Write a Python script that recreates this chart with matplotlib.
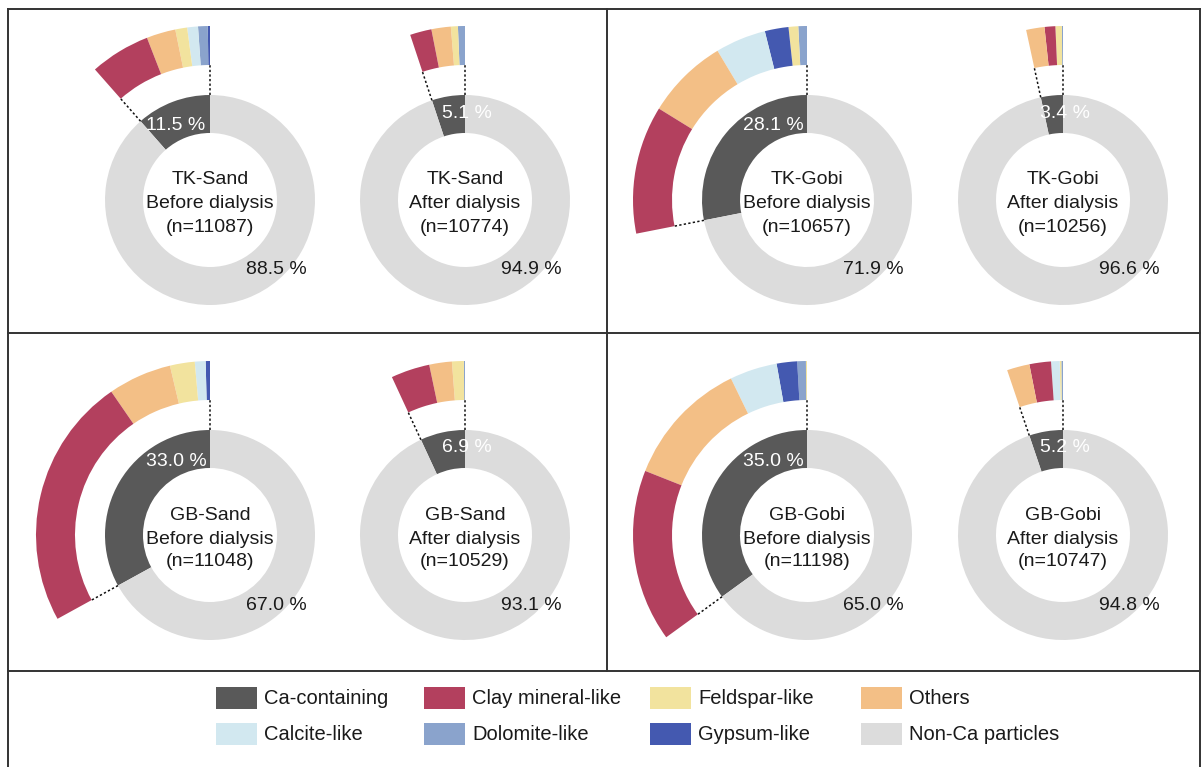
import matplotlib
matplotlib.use("Agg")
import matplotlib.pyplot as plt
from matplotlib.patches import Wedge, Rectangle
import numpy as np

plt.rcParams["font.family"] = ["Liberation Sans", "DejaVu Sans"]

# ---- data -------------------------------------------------------------
samples = ["TK-Sand", "TK-Sand", "TK-Gobi", "TK-Gobi",
           "GB-Sand", "GB-Sand", "GB-Gobi", "GB-Gobi"]
stages = ["Before dialysis", "After dialysis"] * 4
n_particles = [11087, 10774, 10657, 10256, 11048, 10529, 11198, 10747]
ca_pct = [11.5, 5.1, 28.1, 3.4, 33.0, 6.9, 35.0, 5.2]
non_ca_pct = [88.5, 94.9, 71.9, 96.6, 67.0, 93.1, 65.0, 94.8]

# Ca-containing breakdown (% of all particles), listed from 12 o'clock counter-clockwise
tk_sand_before = {"Gypsum-like": 0.2, "Dolomite-like": 0.9, "Calcite-like": 1.0,
                  "Feldspar-like": 1.1, "Others": 2.7, "Clay mineral-like": 5.6}
tk_sand_after = {"Dolomite-like": 0.65, "Feldspar-like": 0.65, "Others": 1.8,
                 "Clay mineral-like": 2.0}
tk_gobi_before = {"Dolomite-like": 0.8, "Feldspar-like": 0.9, "Gypsum-like": 2.2,
                  "Calcite-like": 4.7, "Others": 7.6, "Clay mineral-like": 11.9}
tk_gobi_after = {"Dolomite-like": 0.1, "Feldspar-like": 0.6, "Clay mineral-like": 1.0,
                 "Others": 1.7}
gb_sand_before = {"Gypsum-like": 0.4, "Calcite-like": 1.0, "Feldspar-like": 2.3,
                  "Others": 5.9, "Clay mineral-like": 23.4}
gb_sand_after = {"Dolomite-like": 0.1, "Feldspar-like": 1.1, "Others": 2.1,
                 "Clay mineral-like": 3.6}
gb_gobi_before = {"Feldspar-like": 0.1, "Dolomite-like": 0.8, "Gypsum-like": 1.9,
                  "Calcite-like": 4.4, "Others": 11.8, "Clay mineral-like": 16.0}
gb_gobi_after = {"Dolomite-like": 0.15, "Feldspar-like": 0.15, "Calcite-like": 0.8,
                 "Clay mineral-like": 2.0, "Others": 2.1}

breakdowns = [tk_sand_before, tk_sand_after, tk_gobi_before, tk_gobi_after,
              gb_sand_before, gb_sand_after, gb_gobi_before, gb_gobi_after]

legend_rows = [["Ca-containing", "Clay mineral-like", "Feldspar-like", "Others"],
               ["Calcite-like", "Dolomite-like", "Gypsum-like", "Non-Ca particles"]]

colors = {
    "Ca-containing": "#595959",
    "Clay mineral-like": "#B3405E",
    "Feldspar-like": "#F2E39E",
    "Others": "#F3BF86",
    "Calcite-like": "#D2E8F0",
    "Dolomite-like": "#8AA3CC",
    "Gypsum-like": "#4459B0",
    "Non-Ca particles": "#DCDCDC",
}

# ---- layout (pixel units, y measured from top) --------------------------
W, H = 1203, 767
fig = plt.figure(figsize=(W / 100, H / 100), dpi=100)
ax = fig.add_axes([0, 0, 1, 1])
ax.set_xlim(0, W)
ax.set_ylim(0, H)
ax.axis("off")


def Y(y):
    return H - y


col_x = [210, 465, 807, 1063]
row_y = [200, 535]
r_in_out, r_in_w = 105, 38       # inner donut
r_out_out, r_out_w = 174, 39     # magnified Ca ring
fs = 14
txt = "#1a1a1a"

for i in range(8):
    row, pos = divmod(i, 4)
    cx, cy = col_x[pos], Y(row_y[row])
    before = (pos % 2 == 0)
    ca = ca_pct[i]
    span = 360.0 * ca / 100.0

    # inner donut: Ca-containing vs non-Ca
    ax.add_patch(Wedge((cx, cy), r_in_out, 90, 90 + span, width=r_in_w,
                       facecolor=colors["Ca-containing"], edgecolor="none"))
    ax.add_patch(Wedge((cx, cy), r_in_out, 90 + span, 450, width=r_in_w,
                       facecolor=colors["Non-Ca particles"], edgecolor="none"))

    # outer ring: breakdown of the Ca-containing share
    a = 90.0
    for cat, v in breakdowns[i].items():
        d = 360.0 * v / 100.0
        ax.add_patch(Wedge((cx, cy), r_out_out, a, a + d, width=r_out_w,
                           facecolor=colors[cat], edgecolor="none"))
        a += d

    # dotted connectors
    for th in (90.0, 90.0 + span):
        t = np.deg2rad(th)
        r0, r1 = r_in_out, r_out_out - r_out_w
        ax.plot([cx + r0 * np.cos(t), cx + r1 * np.cos(t)],
                [cy + r0 * np.sin(t), cy + r1 * np.sin(t)],
                ls=(0, (1.5, 1.5)), lw=1.1, color="#111111")

    # labels
    if before:
        ax.text(cx - 34, cy + 74, f"{ca:.1f} %", color="white", fontsize=fs,
                ha="center", va="center")
    else:
        ax.text(cx + 2, cy + 87, f"{ca:.1f} %", color="white", fontsize=fs,
                ha="center", va="center")
    ax.text(cx + 66, cy - 70, f"{non_ca_pct[i]:.1f} %", color=txt, fontsize=fs,
            ha="center", va="center")
    ax.text(cx, cy + 20, samples[i], color=txt, fontsize=fs, ha="center", va="center")
    ax.text(cx, cy - 4, stages[i], color=txt, fontsize=fs, ha="center", va="center")
    ax.text(cx, cy - 27, f"(n={n_particles[i]})", color=txt, fontsize=fs,
            ha="center", va="center")

# ---- panel frame ----------------------------------------------------------
lc, lw = "#333333", 1.4
ax.plot([8, 1200], [Y(9), Y(9)], color=lc, lw=lw)
ax.plot([8, 8], [Y(9), Y(767)], color=lc, lw=lw)
ax.plot([1200, 1200], [Y(9), Y(767)], color=lc, lw=lw)
ax.plot([8, 1200], [Y(333), Y(333)], color=lc, lw=lw)
ax.plot([8, 1200], [Y(671), Y(671)], color=lc, lw=lw)
ax.plot([607, 607], [Y(9), Y(671)], color=lc, lw=lw)

# ---- legend ---------------------------------------------------------------
leg_x = [216, 424, 650, 861]
leg_y = [698, 734]
for r, labels in enumerate(legend_rows):
    for c, lab in enumerate(labels):
        x0, yc = leg_x[c], Y(leg_y[r])
        ax.add_patch(Rectangle((x0, yc - 11), 41, 22, facecolor=colors[lab],
                               edgecolor="none"))
        ax.text(x0 + 48, yc, lab, color=txt, fontsize=14.5, ha="left", va="center")

fig.savefig("out.png", dpi=100, facecolor="white")
